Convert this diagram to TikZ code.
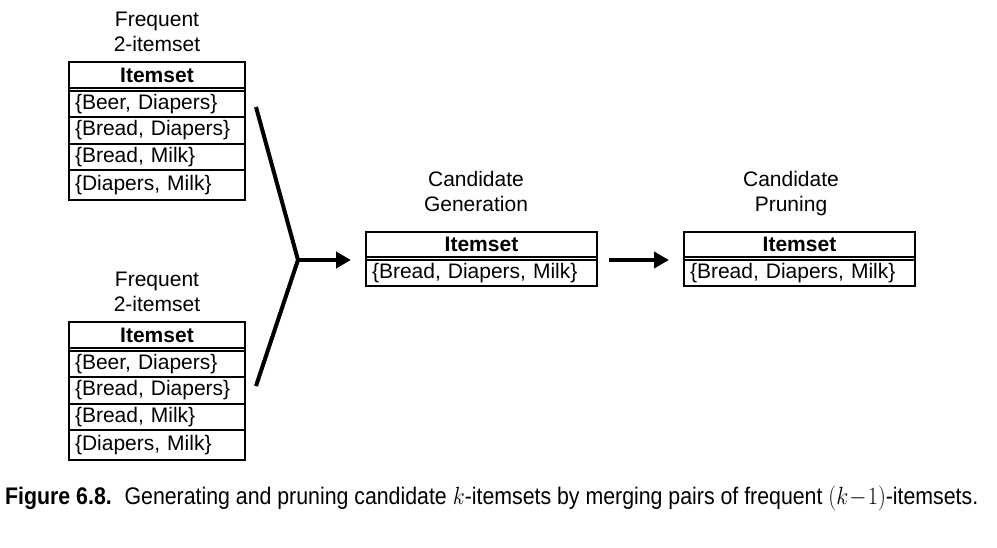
\documentclass[tikz,border=0pt]{standalone}
\usepackage{fontspec}
\usepackage{graphicx}
\setmainfont{Liberation Sans}
\usetikzlibrary{arrows.meta}
\begin{document}
\begin{tikzpicture}[x=1pt,y=-1pt,font=\fontsize{21}{23}\selectfont]
\useasboundingbox[fill=white] (0,0) rectangle (997,547);
\tikzset{
  cellbox/.style={draw,line width=1.1pt,inner sep=0pt,outer sep=0pt,anchor=north west},
  hdr/.style={cellbox,align=center,font=\fontsize{21}{23}\selectfont\bfseries},
  rowa/.style={cellbox,text width=#1,align=left,inner xsep=6pt},
  frame/.style={draw,line width=1.1pt},
  title/.style={align=center,inner sep=0pt,font=\fontsize{21}{24.5}\selectfont},
  fatline/.style={line width=4pt,line join=miter},
  fatarrow/.style={line width=4pt,-{Triangle[length=15pt,width=16pt]}}
}
% top table
\node[title] (tt1) at (157,34) {\strut Frequent\\\strut 2-itemset};
\node[hdr,minimum width=176pt,minimum height=26pt] (a0) at (69,62) {Itemset};
\node[rowa=164pt,minimum height=26pt] (a1) at (69,91) {\{Beer, Diapers\}};
\node[rowa=164pt,minimum height=27pt] (a2) at (69,117) {\{Bread, Diapers\}};
\node[rowa=164pt,minimum height=26pt] (a3) at (69,144) {\{Bread, Milk\}};
\node[rowa=164pt,minimum height=30pt] (a4) at (69,170) {\{Diapers, Milk\}};
\draw[frame] (a0.north west) rectangle (a4.south east);
% bottom table
\node[title] (tt2) at (157,294) {\strut Frequent\\\strut 2-itemset};
\node[hdr,minimum width=176pt,minimum height=26pt] (b0) at (69,322) {Itemset};
\node[rowa=164pt,minimum height=26pt] (b1) at (69,351) {\{Beer, Diapers\}};
\node[rowa=164pt,minimum height=27pt] (b2) at (69,377) {\{Bread, Diapers\}};
\node[rowa=164pt,minimum height=26pt] (b3) at (69,404) {\{Bread, Milk\}};
\node[rowa=164pt,minimum height=30pt] (b4) at (69,430) {\{Diapers, Milk\}};
\draw[frame] (b0.north west) rectangle (b4.south east);
% middle table
\node[title] (tt3) at (476,194) {\strut Candidate\\\strut Generation};
\node[hdr,minimum width=231pt,minimum height=25pt] (c0) at (366,232) {Itemset};
\node[rowa=219pt,minimum height=26pt] (c1) at (366,260) {\{Bread, Diapers, Milk\}};
\draw[frame] (c0.north west) rectangle (c1.south east);
% right table
\node[title] (tt4) at (791,194) {\strut Candidate\\\strut Pruning};
\node[hdr,minimum width=231pt,minimum height=25pt] (d0) at (684,232) {Itemset};
\node[rowa=219pt,minimum height=26pt] (d1) at (684,260) {\{Bread, Diapers, Milk\}};
\draw[frame] (d0.north west) rectangle (d1.south east);
% connectors
\coordinate (s1) at (256,107);
\coordinate (s2) at (256,386);
\coordinate (j) at (298,260);
\coordinate (e1) at (351,260);
\coordinate (s3) at (609,260);
\coordinate (e2) at (669,260);
\draw[fatline] (s1) -- (j) -- (s2);
\draw[fatarrow] (j) -- (e1);
\draw[fatarrow] (s3) -- (e2);
% caption
\node[anchor=west,inner sep=0pt] (cap) at (5,498) {\resizebox{973pt}{\height}{\fontsize{24}{28}\selectfont\textbf{Figure 6.8.}\hspace{0.6em}Generating and pruning candidate $k$-itemsets by merging pairs of frequent $(k\!-\!1)$-itemsets.}};
\end{tikzpicture}
\end{document}
